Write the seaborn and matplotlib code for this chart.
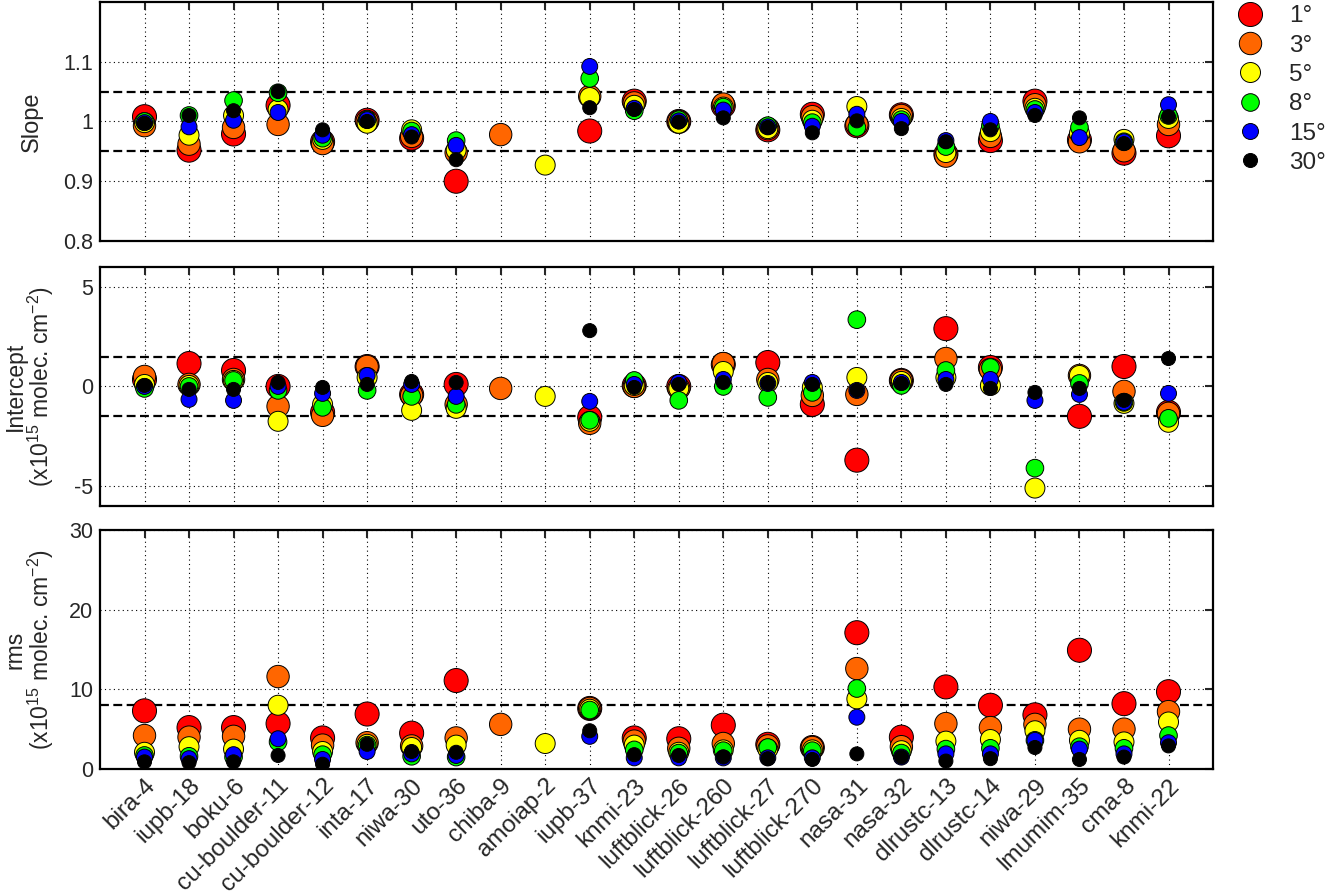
import numpy as np
import pandas as pd
import matplotlib
matplotlib.use("Agg")
from matplotlib import pyplot as plt
from matplotlib.lines import Line2D
import seaborn as sns

nan = np.nan

stations = ["bira-4", "iupb-18", "boku-6", "cu-boulder-11", "cu-boulder-12", "inta-17",
            "niwa-30", "uto-36", "chiba-9", "amoiap-2", "iupb-37", "knmi-23",
            "luftblick-26", "luftblick-260", "luftblick-27", "luftblick-270", "nasa-31",
            "nasa-32", "dlrustc-13", "dlrustc-14", "niwa-29", "lmumim-35", "cma-8", "knmi-22"]
angles = ["1°", "3°", "5°", "8°", "15°", "30°"]

slope_1 = [1.008, 0.952, 0.979, 1.027, 0.966, 1.002, 0.972, 0.900, nan, nan, 0.984, 1.034,
           1.000, 1.026, 0.986, 1.012, 0.993, 1.011, 0.945, 0.968, 1.034, 0.969, 0.947, 0.976]
slope_3 = [0.993, 0.962, 0.990, 0.995, 0.963, 1.000, 0.975, 0.948, 0.978, nan, 1.042, 1.031,
           1.000, 1.029, 0.988, 1.008, 0.995, 1.010, 0.942, 0.975, 1.028, 0.966, 0.951, 0.995]
slope_5 = [0.998, 0.977, 1.010, 1.020, 0.970, 0.997, 0.986, 0.952, nan, 0.927, 1.040, 1.027,
           0.997, 1.024, 0.988, 1.002, 1.025, 1.005, 0.948, 0.983, 1.022, 0.980, 0.970, 1.005]
slope_8 = [1.000, 1.010, 1.035, 1.048, 0.972, 1.003, 0.984, 0.968, nan, nan, 1.072, 1.018,
           1.003, 1.024, 0.993, 0.998, 0.990, 1.003, 0.958, 0.993, 1.020, 0.990, 0.966, 1.010]
slope_15 = [0.998, 0.991, 1.002, 1.015, 0.977, 1.003, 0.978, 0.960, nan, nan, 1.092, 1.022,
            1.001, 1.019, 0.991, 0.992, 1.012, 1.000, 0.968, 1.000, 1.015, 0.973, 0.966, 1.028]
slope_30 = [0.997, 1.010, 1.018, 1.050, 0.986, 1.000, 0.974, 0.936, nan, nan, 1.023, 1.020,
            0.999, 1.006, 0.990, 0.981, 1.001, 0.988, 0.966, 0.986, 1.010, 1.006, 0.963, 1.008]

int_1 = [0.35, 1.15, 0.8, 0.0, -1.3, 1.0, -0.4, 0.1, nan, nan, -1.55, 0.05,
         0.0, 1.1, 1.2, -0.9, -3.7, 0.3, 2.9, 0.95, nan, -1.5, 1.0, -1.3]
int_3 = [0.5, 0.1, 0.35, -1.0, -1.45, 1.0, -0.45, -0.9, -0.1, nan, -1.85, 0.0,
         -0.1, 1.15, 0.35, -0.45, -0.4, 0.3, 1.4, 0.85, nan, 0.55, -0.25, -1.35]
int_5 = [0.1, 0.05, 0.3, -1.75, -0.9, 0.45, -1.2, -1.1, nan, -0.5, -1.75, 0.05,
         -0.1, 0.75, 0.2, -0.05, 0.45, 0.25, 0.45, 0.05, -5.1, 0.55, -0.85, -1.8]
int_8 = [-0.1, 0.0, 0.3, -0.2, -1.05, -0.2, -0.5, -0.9, nan, nan, -1.7, 0.3,
         -0.7, 0.0, -0.55, -0.3, 3.35, 0.05, 0.8, 0.95, -4.1, 0.15, -0.8, -1.6]
int_15 = [0.0, -0.65, -0.7, 0.0, -0.35, 0.55, 0.1, -0.5, nan, nan, -0.75, 0.1,
          0.2, 0.35, 0.15, 0.2, -0.2, 0.2, 0.35, 0.35, -0.7, -0.4, -0.8, -0.35]
int_30 = [0.05, -0.15, -0.15, 0.2, -0.05, 0.1, 0.25, 0.2, nan, nan, 2.8, -0.05,
          0.1, 0.2, 0.15, 0.1, -0.2, 0.15, 0.1, -0.1, -0.3, -0.1, -0.7, 1.4]

rms_1 = [7.3, 5.2, 5.2, 5.7, 3.9, 6.9, 4.5, 11.1, nan, nan, 7.6, 3.9,
         3.8, 5.5, 3.1, 2.7, 17.1, 4.0, 10.3, 8.0, 6.8, 14.9, 8.2, 9.7]
rms_3 = [4.2, 4.0, 4.1, 11.6, 3.0, 3.3, 2.9, 3.9, 5.6, nan, 7.6, 3.5,
         2.6, 3.2, 2.9, 2.7, 12.6, 2.8, 5.7, 5.2, 5.6, 5.0, 5.0, 7.2]
rms_5 = [2.1, 2.8, 2.5, 8.0, 2.2, 3.1, 2.7, 3.0, nan, 3.2, 7.5, 3.0,
         2.1, 2.4, 2.5, 2.4, 8.8, 2.3, 3.5, 3.7, 4.8, 3.6, 3.4, 5.9]
rms_8 = [1.7, 1.6, 1.5, 3.4, 1.8, 3.0, 1.6, 1.5, nan, nan, 7.4, 2.4,
         2.0, 2.3, 2.7, 2.3, 10.1, 2.0, 2.5, 2.6, 3.6, 2.8, 2.6, 4.2]
rms_15 = [1.5, 1.3, 1.8, 3.8, 1.2, 2.2, 1.9, 1.7, nan, nan, 4.1, 1.4,
          1.4, 1.4, 1.4, 1.4, 6.5, 1.5, 1.9, 1.9, 3.6, 2.5, 1.9, 3.3]
rms_30 = [0.9, 0.8, 0.9, 1.7, 0.6, 3.1, 2.2, 2.1, nan, nan, 4.8, 1.8,
          1.7, 1.5, 1.3, 1.2, 1.9, 1.5, 1.0, 1.3, 2.7, 1.2, 1.5, 2.9]

colors = ["#FF0000", "#FF6600", "#FFFF00", "#00FF00", "#0000FF", "#000000"]
sizes = [300, 260, 207, 161, 132, 102]

sns.set_style("white")
plt.rcParams["font.family"] = ["Liberation Sans", "DejaVu Sans"]
plt.rcParams["mathtext.fontset"] = "custom"
plt.rcParams["mathtext.rm"] = "Liberation Sans"
plt.rcParams["mathtext.default"] = "regular"
plt.rcParams["font.size"] = 15


def long_df(series):
    rows = []
    for ang, vals in zip(angles, series):
        for i, v in enumerate(vals):
            rows.append({"x": i + 1, "value": v, "angle": ang})
    return pd.DataFrame(rows).dropna()


panels = [
    ([slope_1, slope_3, slope_5, slope_8, slope_15, slope_30], "Slope",
     (0.8, 1.2), [0.8, 0.9, 1.0, 1.1], ["0.8", "0.9", "1", "1.1"], [0.95, 1.05], -0.051, 17),
    ([int_1, int_3, int_5, int_8, int_15, int_30],
     "Intercept\n(x10$^{15}$ molec. cm$^{-2}$)",
     (-6, 6), [-5, 0, 5], ["-5", "0", "5"], [-1.5, 1.5], -0.0395, 16.5),
    ([rms_1, rms_3, rms_5, rms_8, rms_15, rms_30],
     "rms\n(x10$^{15}$ molec. cm$^{-2}$)",
     (0, 30), [0, 10, 20, 30], ["0", "10", "20", "30"], [8], -0.0395, 16.5),
]

fig = plt.figure(figsize=(13.26, 8.94), dpi=100)
left, width = 0.0754, 0.8394
bottoms = [0.7304, 0.4340, 0.1398]
height = 0.2675

for k, (series, ylabel, ylim, yticks, yticklabels, refs, labx, labfs) in enumerate(panels):
    ax = fig.add_axes([left, bottoms[k], width, height])
    df = long_df(series)
    sns.scatterplot(data=df, x="x", y="value", hue="angle", size="angle",
                    hue_order=angles, size_order=angles,
                    palette=dict(zip(angles, colors)), sizes=dict(zip(angles, sizes)),
                    edgecolor="black", linewidth=0.7, legend=False, ax=ax, zorder=3)
    for r in refs:
        ax.axhline(r, color="black", linestyle=(0, (4, 2)), linewidth=1.6, zorder=2)
    ax.set_xlim(0, 25)
    ax.set_ylim(*ylim)
    ax.set_yticks(yticks)
    ax.set_yticklabels(yticklabels)
    ax.set_xticks(range(1, 25))
    if k == 2:
        ax.set_xticklabels(stations, rotation=45, ha="right", rotation_mode="anchor",
                           fontsize=17.5)
    else:
        ax.set_xticklabels([])
    ax.set_xlabel("")
    ax.set_ylabel(ylabel, fontsize=labfs, linespacing=0.95)
    ax.yaxis.set_label_coords(labx, 0.5)
    ax.grid(True, color="black", linestyle=(0, (1, 3)), linewidth=0.8)
    ax.set_axisbelow(True)
    ax.tick_params(direction="in", length=6, width=1.5, top=True, right=True, pad=4)
    ax.tick_params(axis="y", labelsize=15.5, pad=5)
    for sp in ax.spines.values():
        sp.set_linewidth(1.6)
        sp.set_color("black")
    if k == 0:
        handles = [Line2D([], [], linestyle="none", marker="o", markerfacecolor=c,
                          markeredgecolor="black", markeredgewidth=0.7,
                          markersize=np.sqrt(s)) for c, s in zip(colors, sizes)]
        ax.legend(handles, angles, loc="upper left", bbox_to_anchor=(0.930, 0.994),
                  bbox_transform=fig.transFigure, frameon=False, fontsize=17.5,
                  labelspacing=0.3, handletextpad=0.9, handlelength=1.4,
                  borderaxespad=0, borderpad=0)

fig.savefig("out.png", dpi=100)
